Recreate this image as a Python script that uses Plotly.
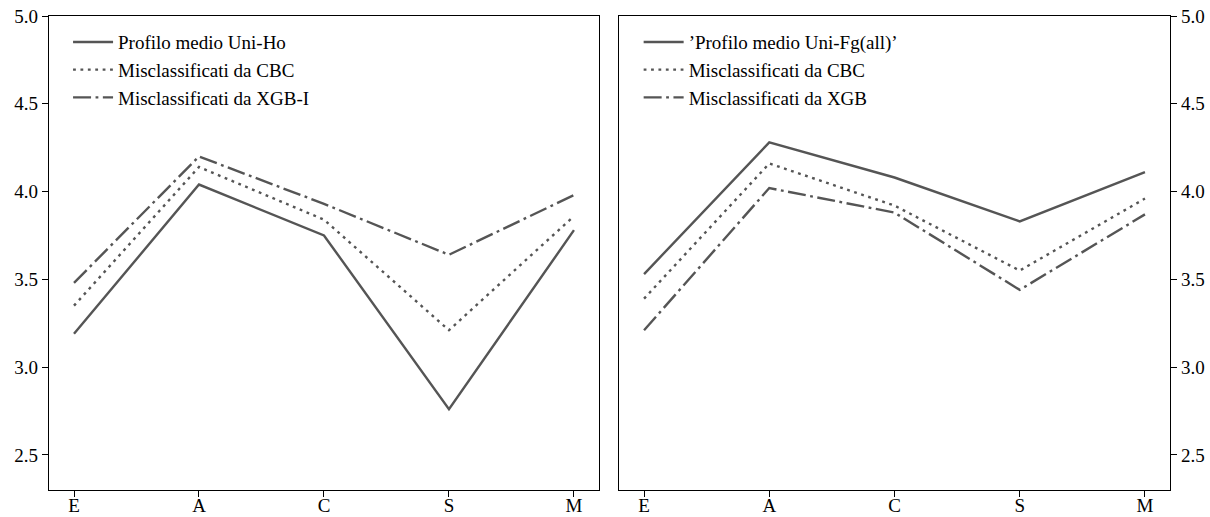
import plotly.graph_objects as go

# Dimension labels shared by both panels
categories = ["E", "A", "C", "S", "M"]

# Left panel: Uni-Ho profile and misclassified groups
ho_profile = [3.19, 4.04, 3.75, 2.76, 3.78]
ho_cbc = [3.35, 4.14, 3.84, 3.21, 3.86]
ho_xgb = [3.48, 4.20, 3.93, 3.64, 3.98]

# Right panel: Uni-Fg(all) profile and misclassified groups
fg_profile = [3.53, 4.28, 4.08, 3.83, 4.11]
fg_cbc = [3.39, 4.16, 3.92, 3.55, 3.96]
fg_xgb = [3.21, 4.02, 3.88, 3.44, 3.87]

y_ticks = [2.5, 3.0, 3.5, 4.0, 4.5, 5.0]

LINE_COLOR = "#555555"
FONT = "Liberation Serif"
DOT = "2.8px,4.6px"
DASHDOT = "18px,4.5px,2.8px,4.5px"

fig = go.Figure()

left = [
    ("Profilo medio Uni-Ho", ho_profile, "solid"),
    ("Misclassificati da CBC", ho_cbc, DOT),
    ("Misclassificati da XGB-I", ho_xgb, DASHDOT),
]
right = [
    ("\u2019Profilo medio Uni-Fg(all)\u2019", fg_profile, "solid"),
    ("Misclassificati da CBC", fg_cbc, DOT),
    ("Misclassificati da XGB", fg_xgb, DASHDOT),
]

for name, vals, dash in left:
    fig.add_trace(go.Scatter(
        x=categories, y=vals, mode="lines", name=name,
        line=dict(color=LINE_COLOR, width=2.4, dash=dash),
        xaxis="x", yaxis="y", legend="legend",
    ))

for name, vals, dash in right:
    fig.add_trace(go.Scatter(
        x=categories, y=vals, mode="lines", name=name,
        line=dict(color=LINE_COLOR, width=2.4, dash=dash),
        xaxis="x2", yaxis="y2", legend="legend2",
    ))

axis_common = dict(
    showline=True, linecolor="black", linewidth=1.2, mirror=True,
    ticks="outside", ticklen=6, tickwidth=1.2, tickcolor="black",
    showgrid=False, zeroline=False, automargin=False,
    tickfont=dict(family=FONT, size=19, color="black"),
)

x_common = dict(axis_common, range=[-0.2, 4.2], type="category",
                ticklabelstandoff=-8)
y_common = dict(axis_common, range=[2.3, 5.0], tickvals=y_ticks,
                tickformat=".1f")

legend_common = dict(
    font=dict(family=FONT, size=19, color="black"),
    bgcolor="rgba(0,0,0,0)", borderwidth=0,
    xanchor="left", yanchor="top", itemwidth=40,
    tracegroupgap=0,
)

fig.update_layout(
    width=1210, height=517,
    margin=dict(l=49, r=40, t=16, b=27, autoexpand=False),
    plot_bgcolor="white", paper_bgcolor="white",
    font=dict(family=FONT, size=19, color="black"),
    xaxis=dict(x_common, domain=[0, 0.4906], anchor="y"),
    yaxis=dict(y_common, domain=[0, 1], anchor="x", side="left"),
    xaxis2=dict(x_common, domain=[0.5085, 1], anchor="y2"),
    yaxis2=dict(y_common, domain=[0, 1], anchor="x2", side="right"),
    legend=dict(legend_common, x=0.017, y=0.985),
    legend2=dict(legend_common, x=0.526, y=0.985),
    showlegend=True,
)

fig.write_html("out.html")
